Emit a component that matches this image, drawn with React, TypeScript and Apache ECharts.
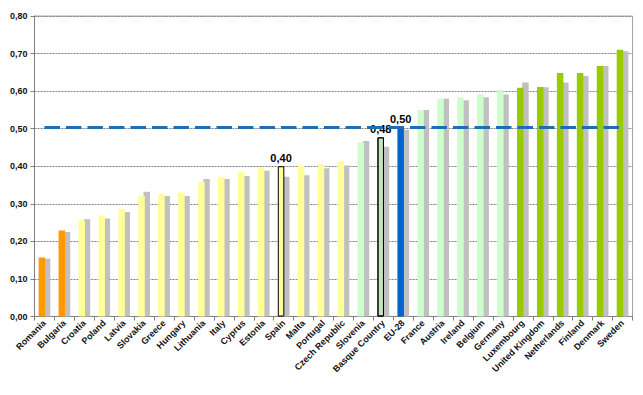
import React, { useEffect, useRef } from "react";
import * as echarts from "echarts";

const categories = [
  "Romania", "Bulgaria", "Croatia", "Poland", "Latvia", "Slovakia", "Greece", "Hungary",
  "Lithuania", "Italy", "Cyprus", "Estonia", "Spain", "Malta", "Portugal", "Czech Republic",
  "Slovenia", "Basque Country", "EU-28", "France", "Austria", "Ireland", "Belgium", "Germany",
  "Luxembourg", "United Kingdom", "Netherlands", "Finland", "Denmark", "Sweden",
];

const currentValues = [
  0.157, 0.229, 0.256, 0.269, 0.286, 0.321, 0.327, 0.330,
  0.358, 0.371, 0.385, 0.395, 0.400, 0.402, 0.405, 0.413,
  0.463, 0.477, 0.503, 0.550, 0.580, 0.584, 0.592, 0.603,
  0.609, 0.611, 0.648, 0.648, 0.667, 0.710,
];

const previousValues = [
  0.154, 0.225, 0.259, 0.261, 0.278, 0.332, 0.321, 0.321,
  0.366, 0.366, 0.374, 0.388, 0.372, 0.376, 0.395, 0.402,
  0.467, 0.452, 0.497, 0.550, 0.580, 0.576, 0.584, 0.591,
  0.623, 0.610, 0.623, 0.640, 0.667, 0.706,
];

const groups = [
  "low", "low", "mid", "mid", "mid", "mid", "mid", "mid",
  "mid", "mid", "mid", "mid", "spain", "mid", "mid", "mid",
  "light", "basque", "eu", "light", "light", "light", "light", "light",
  "high", "high", "high", "high", "high", "high",
];

const euAverage = 0.503;
const labelled = ["Spain", "Basque Country", "EU-28"];

const yTicks = [0, 0.1, 0.2, 0.3, 0.4, 0.5, 0.6, 0.7, 0.8];

const groupColors: Record<string, string> = {
  low: "#FF9900",
  mid: "#FFFF99",
  spain: "#FFFF99",
  light: "#CCFFCC",
  basque: "#C6E6BE",
  eu: "#0066CC",
  high: "#99CC00",
};

const fmt = (v: number) => v.toFixed(2).replace(".", ",");

export default function App() {
  const ref = useRef<HTMLDivElement>(null);
  useEffect(() => {
    document.body.style.margin = "0";
    const chart = echarts.init(ref.current!, undefined, { renderer: "svg" });
    const font = "Arial, 'Liberation Sans', sans-serif";
    const barData = currentValues.map((v, i) => {
      const g = groups[i];
      const item: any = {
        value: v,
        itemStyle: { color: groupColors[g] },
      };
      if (g === "spain" || g === "basque") {
        item.itemStyle.borderColor = "#000";
        item.itemStyle.borderWidth = 1;
      }
      if (g === "basque") {
        item.itemStyle.decal = {
          symbol: "rect",
          symbolSize: 0.5,
          dashArrayX: [1, 1],
          dashArrayY: [1, 1],
          color: "rgba(110,150,100,0.45)",
        };
      }
      if (labelled.includes(categories[i])) {
        item.label = {
          show: true,
          position: "top",
          distance: 3,
          formatter: (p: any) => fmt(p.value),
          fontFamily: font,
          fontWeight: "bold",
          fontSize: 11,
          color: "#000",
        };
      }
      return item;
    });

    chart.setOption({
      animation: false,
      backgroundColor: "#fff",
      grid: {
        left: 34.5,
        right: 10.5,
        top: 16,
        bottom: 78.5,
        show: true,
        borderColor: "#a6a6a6",
        borderWidth: 1,
      },
      xAxis: {
        type: "category",
        data: categories,
        boundaryGap: true,
        axisLine: { lineStyle: { color: "#808080", width: 1 } },
        axisTick: { show: true, length: 4, lineStyle: { color: "#808080" } },
        axisLabel: {
          rotate: 45,
          interval: 0,
          margin: 5,
          fontFamily: font,
          fontWeight: "bold",
          fontSize: 9,
          color: "#111",
        },
      },
      yAxis: {
        type: "value",
        min: yTicks[0],
        max: yTicks[yTicks.length - 1],
        interval: 0.1,
        axisLine: { show: true, lineStyle: { color: "#808080", width: 1 } },
        axisTick: { show: true, length: 4, lineStyle: { color: "#808080" } },
        axisLabel: {
          formatter: (v: number) => fmt(v),
          margin: 7,
          fontFamily: font,
          fontWeight: "bold",
          fontSize: 9,
          color: "#111",
        },
        splitLine: {
          show: true,
          lineStyle: { color: "#808080", width: 1, type: [2, 1] },
        },
      },
      series: [
        {
          type: "bar",
          name: "current",
          data: barData,
          barWidth: 6.5,
          barGap: "-20%",
          z: 3,
        },
        {
          type: "bar",
          name: "previous",
          data: previousValues,
          barWidth: 6.5,
          itemStyle: { color: "#C0C0C0" },
          z: 2,
        },
        {
          type: "line",
          name: "EU-28",
          data: categories.map(() => euAverage),
          symbol: "none",
          lineStyle: { color: "#1F6DB5", width: 3, type: [15.5, 6] },
          z: 4,
        },
      ],
    });
    return () => chart.dispose();
  }, []);
  return (
    <div
      style={{
        position: "absolute",
        left: 0,
        top: 0,
        width: 643,
        height: 395,
        boxSizing: "border-box",
        border: "1px solid #d9d9d9",
        background: "#fff",
      }}
    >
      <div ref={ref} style={{ position: "absolute", left: -1, top: -1, width: 643, height: 395 }} />
    </div>
  );
}
